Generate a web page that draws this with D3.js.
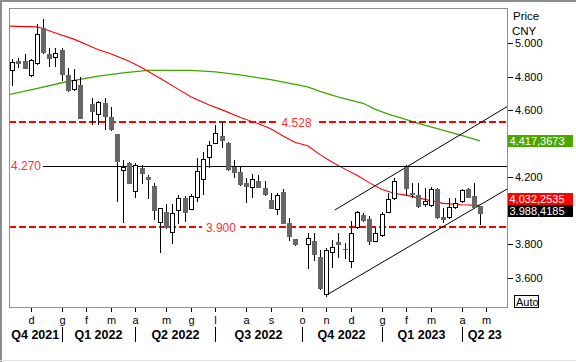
<!DOCTYPE html>
<html lang="en">
<head>
<meta charset="UTF-8">
<title>CNY weekly</title>
<script src="https://d3js.org/d3.v7.min.js"></script>
<style>
  body { margin: 0; background: #fff; }
  svg { display: block; font-family: "Liberation Sans", Arial, sans-serif; }
</style>
</head>
<body>
<svg width="576" height="362"></svg>
<script>
// weekly candles starting on this monday, null = holiday week (no candle)
const firstWeek = "2021-11-08";

const open = [4.839, 4.896, 4.896, 4.812, 4.884, 5.090, 4.936, 4.916, 4.960, 4.811,
  4.725, 4.751, null, 4.637, 4.576, 4.643, 4.560, 4.458, 4.241, 4.283,
  4.120, 4.253, 4.203, 4.148, 3.931, 3.994, 3.875, 4.006, 4.074, 4.011,
  4.084, 4.188, 4.319, 4.406, 4.448, 4.406, 4.263, 4.233, 4.164, 4.140,
  4.177, 4.137, 4.064, 4.008, 4.114, 3.928, 3.829, null, 3.799, 3.821,
  3.725, 3.502, 3.753, 3.813, 3.771, 3.700, 3.901, 3.974, 3.950, 3.821,
  3.855, 3.994, 4.074, null, 4.263, 4.106, 4.094, 4.038, 4.034, 4.128,
  3.963, 3.961, 4.024, 4.058, 4.128, 4.088, 4.028];
const high = [4.904, 4.910, 4.936, 4.905, 5.115, 5.145, 4.970, 4.974, 4.972, 4.851,
  4.847, 4.797, null, 4.672, 4.655, 4.672, 4.618, 4.460, 4.303, 4.293,
  4.287, 4.273, 4.213, 4.164, 4.018, 4.040, 4.040, 4.094, 4.088, 4.098,
  4.313, 4.353, 4.416, 4.512, 4.528, 4.410, 4.303, 4.263, 4.197, 4.219,
  4.213, 4.177, 4.108, 4.108, 4.128, 3.955, 3.831, null, 3.869, 3.869,
  3.765, 3.775, 3.825, 3.869, 3.805, 3.940, 4.000, 3.985, 3.968, 3.895,
  3.994, 4.104, 4.194, null, 4.273, 4.167, 4.167, 4.137, 4.140, 4.135,
  4.014, 4.074, 4.074, 4.128, 4.135, 4.167, 4.030];
const low = [4.749, 4.860, 4.850, 4.806, 4.875, 4.945, 4.866, 4.866, 4.781, 4.718,
  4.721, 4.553, null, 4.516, 4.518, 4.486, 4.485, 4.060, 3.934, 4.165,
  4.084, 4.167, 4.074, 3.949, 3.752, 3.898, 3.810, 3.928, 3.938, 4.008,
  4.058, 4.098, 4.263, 4.404, 4.382, 4.245, 4.203, 4.155, 4.054, 4.084,
  4.140, 4.095, 4.015, 3.978, 3.925, 3.825, 3.797, null, 3.656, 3.706,
  3.532, 3.492, 3.666, 3.725, 3.719, 3.666, 3.895, 3.940, 3.799, 3.818,
  3.850, 3.990, 4.070, null, 4.094, 4.084, 4.025, 4.030, 4.030, 3.955,
  3.934, 3.955, 4.018, 4.055, 4.080, 4.020, 3.921];
const close = [4.888, 4.884, 4.854, 4.900, 5.056, 4.950, 4.914, 4.942, 4.818, 4.721,
  4.781, 4.556, null, 4.597, 4.651, 4.568, 4.488, 4.299, 4.263, 4.167,
  4.273, 4.227, 4.188, 4.004, 4.014, 3.903, 3.985, 4.074, 3.994, 4.088,
  4.237, 4.309, 4.393, 4.462, 4.424, 4.247, 4.233, 4.159, 4.150, 4.188,
  4.143, 4.100, 4.018, 4.094, 3.928, 3.851, 3.799, null, 3.835, 3.740,
  3.536, 3.765, 3.781, 3.799, 3.769, 3.865, 3.994, 3.944, 3.821, 3.865,
  3.978, 4.068, 4.179, null, 4.137, 4.102, 4.030, 4.058, 4.128, 3.961,
  3.952, 4.024, 4.048, 4.124, 4.084, 4.024, 3.988];

// moving averages, read at these week indexes
const redMaWeek = [-1, 4, 5, 7, 10, 14, 16, 19, 21, 24, 27, 29, 32, 34, 37, 40, 42, 44, 46, 48,
  50, 52, 54, 56, 58, 60, 62, 64, 67, 70, 73, 76];
const redMa = [5.103, 5.098, 5.088, 5.062, 5.025, 4.962, 4.938, 4.893, 4.856, 4.791,
  4.725, 4.681, 4.632, 4.604, 4.558, 4.519, 4.490, 4.447, 4.408, 4.388,
  4.335, 4.290, 4.250, 4.212, 4.168, 4.128, 4.104, 4.093, 4.068, 4.044, 4.036, 4.032];
const greenMaWeek = [-1, 3, 9, 14, 18, 22, 29, 33, 37, 42, 48, 50, 53, 57, 59, 61, 66, 73, 76];
const greenMa = [4.690, 4.722, 4.772, 4.804, 4.824, 4.839, 4.839, 4.830, 4.811, 4.783,
  4.740, 4.713, 4.679, 4.642, 4.606, 4.578, 4.522, 4.450, 4.417];

// drawn levels and channel (week index, price)
const dashedLevels = [4.528, 3.900];
const solidLevel = 4.270;
const channelUpper = [[52.4, 4.004], [80.6, 4.626]];
const channelLower = [[51, 3.495], [80.6, 4.134]];

const lastLabels = ["4.417,3673", "4.032,2535", "3.988,4185"];

const monthTicks = ["2021-11-29", "2022-01-03", "2022-01-31", "2022-02-28", "2022-03-28",
  "2022-05-02", "2022-05-30", "2022-06-27", "2022-08-01", "2022-08-29", "2022-10-03",
  "2022-10-31", "2022-11-28", "2023-01-02", "2023-01-30", "2023-02-27", "2023-04-03", "2023-05-01"];
const monthLabels = ["d", "g", "f", "m", "a", "m", "g", "l", "a", "s", "o", "n", "d", "g", "f", "m", "a", "m"];
const quarterStarts = ["2022-01-03", "2022-03-28", "2022-06-27", "2022-10-03", "2023-01-02", "2023-04-03"];
const quarterLabels = ["Q4 2021", "Q1 2022", "Q2 2022", "Q3 2022", "Q4 2022", "Q1 2023", "Q2 23"];
const priceTicks = [5.0, 4.8, 4.6, 4.2, 3.8, 3.6];

const svg = d3.select("svg");
const W = 576, H = 362;
const L = 9, T = 8, R = 508, B = 308;

const parse = d3.utcParse("%Y-%m-%d");
const t0 = parse(firstWeek);
const weekDate = i => new Date(t0.getTime() + i * 7 * 864e5);

const x = d3.scaleUtc().domain([weekDate(-0.536), weekDate(80.55)]).range([L, R]);
const y = d3.scaleLinear().domain([3.419, 5.211]).range([B, T]);
const xr = d => Math.round(x(d));
const yr = v => Math.round(y(v));

svg.append("rect").attr("width", W).attr("height", H).attr("fill", "#fff");
// window frame
svg.append("line").attr("x1", 0).attr("x2", W).attr("y1", 1).attr("y2", 1).attr("stroke", "#8c8c8c").attr("stroke-width", 2);
svg.append("line").attr("x1", 1).attr("x2", 1).attr("y1", 0).attr("y2", H).attr("stroke", "#8c8c8c").attr("stroke-width", 2);
svg.append("line").attr("x1", 0).attr("x2", W).attr("y1", 360.5).attr("y2", 360.5).attr("stroke", "#e0e0e0");

svg.append("defs").append("clipPath").attr("id", "plot")
  .append("rect").attr("x", L).attr("y", T).attr("width", R - L).attr("height", B - T);
const g = svg.append("g").attr("clip-path", "url(#plot)");

// moving averages
const maLine = d3.line().x(d => x(weekDate(d[0]))).y(d => y(d[1]));
g.append("path").datum(greenMaWeek.map((w, i) => [w, greenMa[i]]))
  .attr("d", maLine).attr("fill", "none").attr("stroke", "#3fa600").attr("stroke-width", 1.3);
g.append("path").datum(redMaWeek.map((w, i) => [w, redMa[i]]))
  .attr("d", maLine).attr("fill", "none").attr("stroke", "#ff0000").attr("stroke-width", 1.1);

// levels
dashedLevels.forEach(v => {
  g.append("line").attr("x1", L).attr("x2", R).attr("y1", yr(v)).attr("y2", yr(v))
    .attr("stroke", "#f00").attr("stroke-width", 2).attr("stroke-dasharray", "7,3");
});
g.append("line").attr("x1", 43).attr("x2", R).attr("y1", yr(solidLevel) + 0.5).attr("y2", yr(solidLevel) + 0.5)
  .attr("stroke", "#000").attr("stroke-width", 1);

// channel
[channelUpper, channelLower].forEach(c => {
  g.append("line")
    .attr("x1", x(weekDate(c[0][0]))).attr("y1", y(c[0][1]))
    .attr("x2", x(weekDate(c[1][0]))).attr("y2", y(c[1][1]))
    .attr("stroke", "#000").attr("stroke-width", 1);
});

// candles
const candles = open.map((o, i) => ({ date: weekDate(i), o, h: high[i], l: low[i], c: close[i] }))
  .filter(d => d.o != null);
const cg = g.append("g");
cg.selectAll("line.wick").data(candles).enter().append("line")
  .attr("class", "wick")
  .attr("x1", d => xr(d.date) + 0.5).attr("x2", d => xr(d.date) + 0.5)
  .attr("y1", d => yr(d.h)).attr("y2", d => yr(d.l) + 1)
  .attr("stroke", "#000");
cg.selectAll("rect.down").data(candles.filter(d => d.c < d.o)).enter().append("rect")
  .attr("x", d => xr(d.date) - 2).attr("width", 5)
  .attr("y", d => yr(d.o)).attr("height", d => Math.max(1, yr(d.c) - yr(d.o) + 1))
  .attr("fill", "#666");
cg.selectAll("rect.up").data(candles.filter(d => d.c >= d.o)).enter().append("rect")
  .attr("x", d => xr(d.date) - 1.5).attr("width", 4)
  .attr("y", d => yr(d.c) + 0.5).attr("height", d => Math.max(0, yr(d.o) - yr(d.c)))
  .attr("fill", "#fff").attr("stroke", "#000");

// level labels
function levelLabel(text, cx, v) {
  const t = svg.append("text").attr("x", cx).attr("y", y(v)).attr("dy", "0.36em")
    .attr("text-anchor", "middle").attr("font-size", 12).attr("fill", "#ff3030").text(text);
  const bb = t.node().getBBox();
  svg.insert("rect", () => t.node()).attr("x", bb.x - 4).attr("y", bb.y)
    .attr("width", bb.width + 8).attr("height", bb.height).attr("fill", "#fff");
}
levelLabel("4.528", x(weekDate(46.2)), 4.528);
levelLabel("3.900", x(weekDate(33.9)), 3.900);
svg.append("text").attr("x", 11).attr("y", y(solidLevel)).attr("dy", "0.36em")
  .attr("font-size", 12).attr("fill", "#ff3030").text("4.270");

// plot border
svg.append("rect").attr("x", L + 0.5).attr("y", T + 0.5).attr("width", R - L - 1).attr("height", B - T - 1)
  .attr("fill", "none").attr("stroke", "#8c909c");

// right axis
svg.append("text").attr("x", 513).attr("y", 19.5).attr("font-size", 11.5).text("Price");
svg.append("text").attr("x", 512).attr("y", 35).attr("font-size", 11.5).text("CNY");
const ya = svg.append("g");
ya.selectAll("line").data(priceTicks).enter().append("line")
  .attr("x1", R).attr("x2", R + 5).attr("y1", d => yr(d) + 0.5).attr("y2", d => yr(d) + 0.5)
  .attr("stroke", "#000");
ya.selectAll("text").data(priceTicks).enter().append("text")
  .attr("x", 515).attr("y", d => y(d)).attr("dy", "0.36em").attr("font-size", 11)
  .text(d3.format(".3f"));

// last value boxes
const boxW = 65, boxH = 12;
const yClose = yr(close[close.length - 1]);
const boxes = [
  { y: yr(greenMa[greenMa.length - 1]) - 6, fill: "#4aa800", text: lastLabels[0] },
  { y: yClose - 8 - boxH, fill: "#ff0000", text: lastLabels[1] },
  { y: yClose - 8, fill: "#000", text: lastLabels[2] }
];
boxes.forEach(b => {
  svg.append("rect").attr("x", R).attr("y", b.y).attr("width", boxW).attr("height", boxH).attr("fill", b.fill);
  svg.append("text").attr("x", R + 1.5).attr("y", b.y + boxH / 2).attr("dy", "0.36em")
    .attr("font-size", 11).attr("fill", "#fff").text(b.text);
});

// auto button
svg.append("rect").attr("x", 514.5).attr("y", 295.5).attr("width", 24).attr("height", 12)
  .attr("fill", "#fff").attr("stroke", "#000");
svg.append("text").attr("x", 516).attr("y", 305.5).attr("font-size", 11).text("Auto");

// bottom axis
const mt = monthTicks.map(parse);
const xa = svg.append("g");
xa.selectAll("line").data(mt).enter().append("line")
  .attr("x1", d => xr(d) + 0.5).attr("x2", d => xr(d) + 0.5).attr("y1", B).attr("y2", B + 4)
  .attr("stroke", "#000");
xa.selectAll("text").data(mt).enter().append("text")
  .attr("x", d => xr(d) + 0.5).attr("y", 324).attr("text-anchor", "middle").attr("font-size", 11)
  .text((d, i) => monthLabels[i]);

const qs = quarterStarts.map(parse);
svg.append("g").selectAll("line").data(qs).enter().append("line")
  .attr("x1", d => xr(d) + 0.5).attr("x2", d => xr(d) + 0.5).attr("y1", 327).attr("y2", 342)
  .attr("stroke", "#000");
const bounds = [L].concat(qs.map(d => x(d)), [R]);
svg.append("g").selectAll("text").data(quarterLabels).enter().append("text")
  .attr("x", (d, i) => (bounds[i] + bounds[i + 1]) / 2).attr("y", 339)
  .attr("text-anchor", "middle").attr("font-size", 12.5).attr("font-weight", "bold")
  .text(d => d);
</script>
</body>
</html>
